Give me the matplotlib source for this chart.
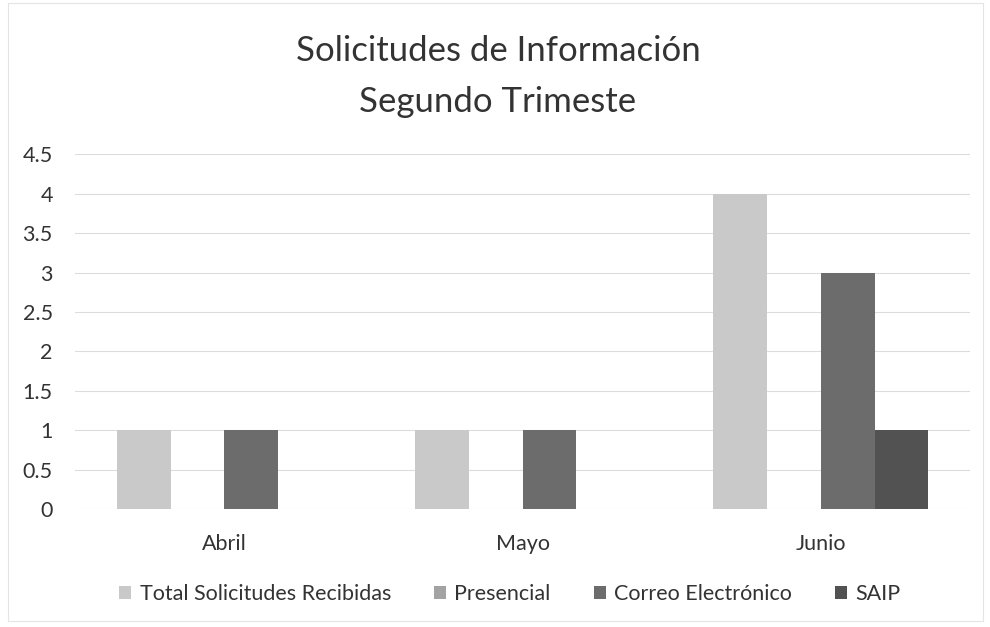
import matplotlib
matplotlib.use("Agg")
import matplotlib.pyplot as plt
import numpy as np

plt.rcParams['font.family'] = ['Lato', 'DejaVu Sans']

months = ["Abril", "Mayo", "Junio"]
series_names = ["Total Solicitudes Recibidas", "Presencial", "Correo Electrónico", "SAIP"]
total = [1, 1, 4]
presencial = [0, 0, 0]
correo = [1, 1, 3]
saip = [0, 0, 1]
yticks = [0, 0.5, 1, 1.5, 2, 2.5, 3, 3.5, 4, 4.5]
ytick_labels = ["0", "0.5", "1", "1.5", "2", "2.5", "3", "3.5", "4", "4.5"]

colors = ["#c9c9c9", "#a3a3a3", "#6c6c6c", "#525252"]
values = [total, presencial, correo, saip]

fig = plt.figure(figsize=(9.9, 6.27), dpi=100)
ax = fig.add_axes([0.0758, 0.188, 0.904, 0.566])

x = np.arange(len(months))
w = 0.18
for i, (name, vals, c) in enumerate(zip(series_names, values, colors)):
    ax.bar(x + (i - 1.5) * w, vals, width=w, color=c, label=name, zorder=3)

ax.set_xlim(-0.5, 2.5)
ax.set_ylim(0, 4.5)
ax.set_yticks(yticks)
ax.set_yticklabels(ytick_labels)
ax.set_xticks(x)
ax.set_xticklabels(months)
ax.grid(axis='y', color='#dcdcdc', linewidth=0.8, zorder=0)
for s in ax.spines.values():
    s.set_visible(False)
ax.tick_params(axis='both', length=0, labelsize=15.5, colors='#333333')
ax.tick_params(axis='x', pad=18)
ax.tick_params(axis='y', pad=16)

fig.text(0.503, 0.918, "Solicitudes de Información", ha='center', va='center', fontsize=25, color='#333333')
fig.text(0.503, 0.838, "Segundo Trimeste", ha='center', va='center', fontsize=25, color='#333333')

leg = fig.legend(loc='center', bbox_to_anchor=(0.515, 0.053), ncol=4, frameon=False,
                 fontsize=15.5, handlelength=0.55, handleheight=0.55, columnspacing=2.0, handletextpad=0.4)
for t in leg.get_texts():
    t.set_color('#333333')

fig.patches.append(plt.Rectangle((0.008, 0.01), 0.985, 0.985, transform=fig.transFigure,
                                 fill=False, edgecolor='#e4e4e4', linewidth=0.8))

fig.savefig("out.png", dpi=100)
